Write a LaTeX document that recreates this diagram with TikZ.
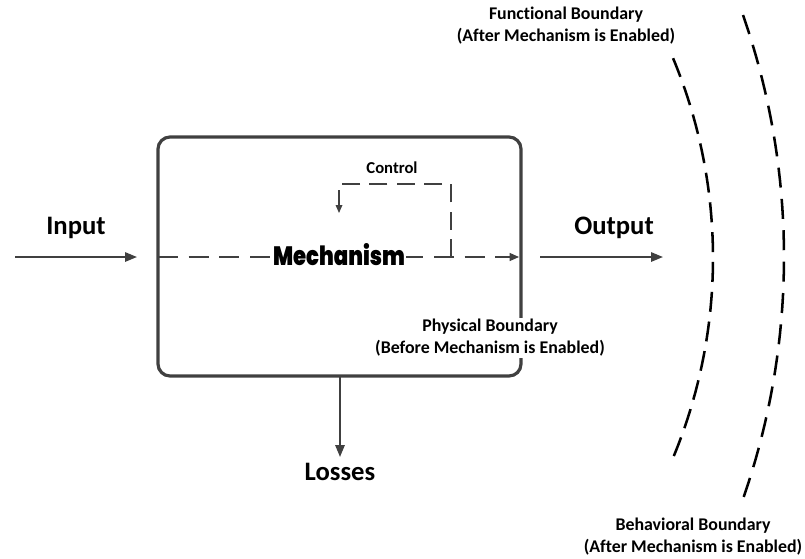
\documentclass[tikz,border=0pt]{standalone}
\usepackage{fontspec}
\setmainfont{Carlito}[Ligatures=NoCommon]
\newfontfamily\heavyfont{Poppins Black}
\usetikzlibrary{arrows.meta}
\definecolor{linegray}{HTML}{404040}
\tikzset{
  flow/.style={draw=linegray, line width=1.5pt, -{Triangle[length=9pt,width=7pt]}},
  inner/.style={draw=linegray, line width=0.9pt, dash pattern=on 15pt off 8pt},
  bound/.style={draw=black, line width=1.9pt},
  biglabel/.style={font=\bfseries\fontsize{20}{24}\selectfont, text=black},
  smalllabel/.style={font=\bfseries\fontsize{13.4}{16.5}\selectfont, align=center, text=black},
}
\begin{document}
\begin{tikzpicture}[x=0.75pt,y=-0.75pt]
\useasboundingbox (0,0) rectangle (805,558);
% mechanism box (physical boundary)
\draw[draw=linegray, line width=2.4pt, rounded corners=9pt] (158,137) rectangle (521,376);
\coordinate (boxL) at (158,257);
\coordinate (boxR) at (519,257);
\coordinate (boxB) at (340,377);
% input / output / losses
\coordinate (inS) at (15,257);
\coordinate (inE) at (137,257);
\coordinate (outS) at (540,257);
\coordinate (outE) at (663,257);
\coordinate (lossE) at (340,457);
\draw[flow] (inS) -- (inE);
\draw[flow] (outS) -- (outE);
\draw[flow] (boxB) -- (lossE);
\node[biglabel] (input) at (76,228) {Input};
\node[biglabel] (output) at (614,228) {Output};
\node[biglabel] (losses) at (340,472) {Losses};
% internal flow through the mechanism
\draw[inner, -{Triangle[length=7pt,width=6pt]}] (boxL) -- (boxR);
\node[fill=white, inner sep=0.6pt] (mech) at (339,255)
  {\resizebox{99pt}{16.5pt}{\heavyfont Mechanism}};
% control loop
\coordinate (cA) at (451,257);
\coordinate (cB) at (451,184);
\coordinate (cC) at (339,184);
\coordinate (cD) at (339,213);
\draw[inner, dash pattern=on 13.5pt off 7pt, -{Triangle[length=6pt,width=5pt]}] (cA) -- (cB) -- (cC) -- (cD);
\node[font=\bfseries\fontsize{12.5}{15}\selectfont] (control) at (392,168) {Control};
% boundary labels
\node[smalllabel, fill=white, inner sep=1pt] (phys) at (490,338) {Physical Boundary\\(Before Mechanism is Enabled)};
\node[smalllabel] (func) at (566,26) {Functional Boundary\\(After Mechanism is Enabled)};
\node[smalllabel] (behav) at (693,537) {Behavioral Boundary\\(After Mechanism is Enabled)};
% functional and behavioral boundary arcs (dash periods fitted to arc length)
\draw[bound, dash pattern=on 15pt off 7.4pt] plot[domain=-22.6:22.6, samples=120] ({193+520*cos(\x)},{258+520*sin(\x)});
\draw[bound, dash pattern=on 15pt off 8.55pt] plot[domain=-19.23:19.23, samples=120] ({49.3+734.7*cos(\x)},{257+734.7*sin(\x)});
\end{tikzpicture}
\end{document}
